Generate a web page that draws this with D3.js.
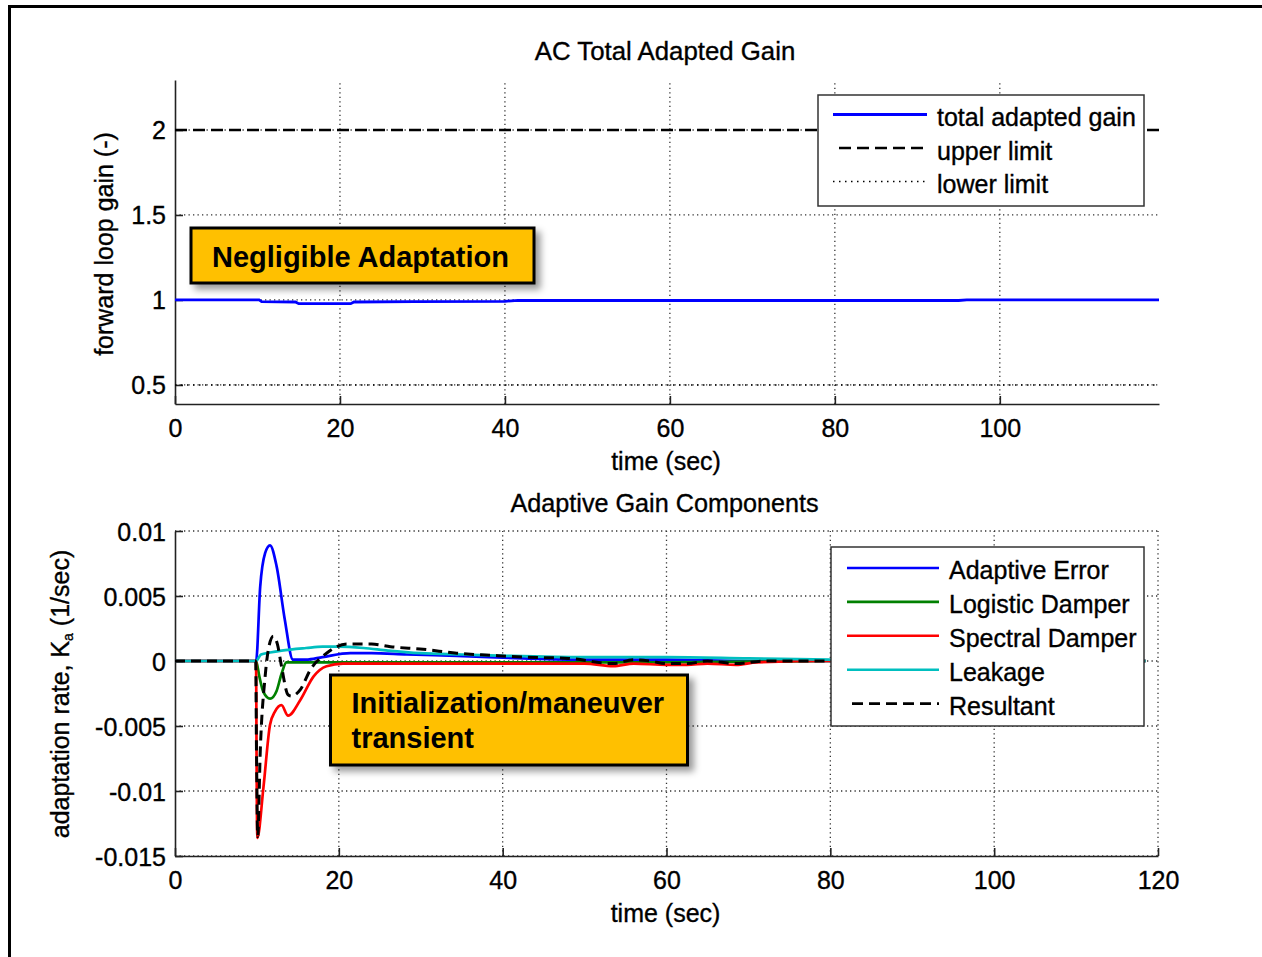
<!DOCTYPE html>
<html>
<head>
<meta charset="utf-8">
<script src="https://cdn.jsdelivr.net/npm/d3@7"></script>
<style>
  html, body { margin: 0; padding: 0; background: #fff; }
  svg { display: block; }
  text { font-family: "Liberation Sans", Arial, sans-serif; fill: #000; }
  .reg { stroke: #000; stroke-width: 0.35px; }
</style>
</head>
<body>
<svg id="chart" width="1262" height="957"></svg>
<script>
// ---------- data: total adapted gain ----------
const gainTime  = [0, 10.2, 10.5, 14.6, 15.0, 21.3, 21.7, 29, 40, 41.6, 60, 80, 95, 96, 119.3];
const gainValue = [1.0, 1.0, 0.990, 0.988, 0.978, 0.978, 0.988, 0.990, 0.992, 0.998, 0.997, 0.997, 0.997, 1.0, 1.0];
const upperLimit = 2.0;
const lowerLimit = 0.5;

// ---------- data: adaptive gain components ----------
const errTime  = [0, 9.9, 10.4, 11.0, 11.6, 12.4, 13.4, 14.4, 16, 18, 21.4, 24, 28.3, 34.4, 42.5, 50, 60, 70, 80, 100, 118.5];
const errValue = [0, 0, 0.0057, 0.0083, 0.0089, 0.0073, 0.0032, 0.0001, 0.0001, 0.0003, 0.0006, 0.0006, 0.0005, 0.0004, 0.0002, 0.0001, 0.0001, 0, 0, 0, 0];

const logTime  = [0, 9.9, 10.3, 10.8, 11.6, 12.4, 13.0, 13.6, 16, 20, 30, 40, 60, 80, 118.5];
const logValue = [0, 0, -0.0012, -0.0024, -0.0029, -0.0023, -0.0010, -0.0001, -0.0001, -0.0001, -0.0001, -0.0001, -0.0001, 0, 0];

const specTime  = [0, 9.9, 9.95, 10.05, 10.8, 11.6, 12.2, 13.0, 13.8, 15.3, 16.9, 18.5, 20.5, 25, 30, 40, 50, 53.5, 56, 60, 62.5, 65, 68.5, 71, 80, 100, 118.5];
const specValue = [0, 0, -0.0066, -0.0136, -0.0097, -0.0049, -0.0039, -0.0034, -0.0042, -0.0030, -0.0012, -0.0004, -0.0002, -0.0002, -0.0002, -0.0002, -0.0002, -0.0004, -0.0002, -0.0003, -0.0003, -0.0002, -0.0003, -0.0001, 0, 0, 0];

const leakTime  = [0, 9.9, 10.5, 11.6, 13, 16, 18, 20, 23, 26, 30, 35, 40.5, 50, 60, 70, 80, 100, 118.5];
const leakValue = [0, 0, 0.0005, 0.00065, 0.0008, 0.0010, 0.0011, 0.0011, 0.0010, 0.0008, 0.0006, 0.0005, 0.0004, 0.0003, 0.0003, 0.0002, 0.0001, 0, 0];

const resTime  = [0, 9.85, 9.95, 10.1, 10.4, 11.0, 11.5, 12.0, 12.5, 13.0, 13.8, 14.2, 15.3, 16.5, 18.5, 21, 24, 26.3, 30.3, 34.4, 38.5, 42.5, 48, 53.5, 56, 58, 60, 62.5, 65, 68.5, 72, 80, 100, 118.5];
const resValue = [0, 0, -0.0070, -0.0135, -0.0071, -0.0012, 0.0012, 0.0019, 0.0013, -0.0004, -0.0026, -0.0027, -0.0022, -0.0007, 0.0006, 0.0013, 0.0013, 0.0011, 0.0009, 0.0006, 0.00044, 0.0003, 0.0002, -0.0002, 0.0001, 0.0, -0.0002, -0.0002, 0.0, -0.0002, 0.0, 0.0, 0, 0];

// ---------- ticks and labels ----------
const topXTicks = [0, 20, 40, 60, 80, 100];
const topYTicks = [0.5, 1, 1.5, 2];
const botXTicks = [0, 20, 40, 60, 80, 100, 120];
const botYTicks = [-0.015, -0.01, -0.005, 0, 0.005, 0.01];
const botYTickLabels = ["-0.015", "-0.01", "-0.005", "0", "0.005", "0.01"];

const topLegend = ["total adapted gain", "upper limit", "lower limit"];
const botLegend = ["Adaptive Error", "Logistic Damper", "Spectral Damper", "Leakage", "Resultant"];
const botColors = ["#0000ff", "#008000", "#ff0000", "#00bfbf", "#000000"];

// ---------- layout ----------
const svg = d3.select("#chart");
const FS = 25;

const defs = svg.append("defs");
const shadow = defs.append("filter").attr("id", "shadow")
  .attr("x", "-10%").attr("y", "-20%").attr("width", "130%").attr("height", "160%");
shadow.append("feDropShadow").attr("dx", 5).attr("dy", 5).attr("stdDeviation", 3.5)
  .attr("flood-color", "#000").attr("flood-opacity", 0.4);

// outer frame
svg.append("rect").attr("x", 9.5).attr("y", 6.5).attr("width", 1400).attr("height", 1100)
  .attr("fill", "none").attr("stroke", "#000").attr("stroke-width", 3);

function makePanel(opts) {
  const g = svg.append("g");
  const x = opts.x, y = opts.y;
  const [x0, x1] = x.range();
  const [y0, y1] = y.range(); // y0 bottom, y1 top

  const clipId = opts.id + "-clip";
  defs.append("clipPath").attr("id", clipId).append("rect")
    .attr("x", x0).attr("y", y1 - 2).attr("width", x1 - x0 + 2).attr("height", y0 - y1 + 4);

  // dotted grid
  const grid = g.append("g").attr("stroke", "#333").attr("stroke-width", 1.3)
    .attr("stroke-dasharray", "1.3,3.2").attr("fill", "none");
  opts.xTicks.filter(d => d !== 0).forEach(d => {
    grid.append("line").attr("x1", x(d)).attr("x2", x(d)).attr("y1", y0).attr("y2", y1);
  });
  opts.yTicks.forEach(d => {
    grid.append("line").attr("x1", x0).attr("x2", x1).attr("y1", y(d)).attr("y2", y(d));
  });

  // axes (left and bottom, inward ticks)
  const xAxis = d3.axisBottom(x).tickValues(opts.xTicks).tickSizeInner(-8).tickSizeOuter(0)
    .tickPadding(15).tickFormat(d3.format("d"));
  const yAxis = d3.axisLeft(y).tickValues(opts.yTicks).tickSizeInner(-8).tickSizeOuter(0)
    .tickPadding(9).tickFormat((d, i) => opts.yTickFormat(d, i));
  const gx = g.append("g").attr("transform", `translate(0,${y0})`).call(xAxis);
  const gy = g.append("g").attr("transform", `translate(${x0},0)`).call(yAxis);
  [gx, gy].forEach(a => {
    a.select(".domain").attr("stroke", "#222").attr("stroke-width", 1.6);
    a.selectAll(".tick line").attr("stroke", "#222").attr("stroke-width", 1.6);
    a.selectAll("text").attr("class", "reg").style("font-size", FS + "px")
      .style("font-family", '"Liberation Sans", Arial, sans-serif').attr("fill", "#000");
  });
  gx.selectAll(".tick text").attr("dy", "0.71em").attr("y", 15);
  gy.selectAll(".tick text").attr("dy", "0.36em");

  // title and x label
  g.append("text").attr("class", "reg").attr("x", opts.titleX).attr("y", opts.titleY)
    .attr("text-anchor", "middle").style("font-size", opts.titleSize + "px").text(opts.title);
  g.append("text").attr("class", "reg").attr("x", (x0 + x1) / 2 - 1).attr("y", opts.xLabelY)
    .attr("text-anchor", "middle").style("font-size", FS + "px").text("time (sec)");

  const plot = g.append("g").attr("clip-path", `url(#${clipId})`);
  return { g, plot };
}

// ---------- top panel ----------
const xTop = d3.scaleLinear().domain([0, 119.3]).range([175, 1159]);
const yTop = d3.scaleLinear().domain([0.388, 2.294]).range([404, 80]);
const gainPanel = makePanel({
  id: "gainpanel", x: xTop, y: yTop, xTicks: topXTicks, yTicks: topYTicks,
  yTickFormat: d => String(d), title: "AC Total Adapted Gain",
  titleX: 665, titleY: 60, titleSize: 25.8, xLabelY: 470
});

gainPanel.plot.append("line").attr("x1", xTop(0)).attr("x2", xTop(119.3))
  .attr("y1", yTop(lowerLimit)).attr("y2", yTop(lowerLimit))
  .attr("stroke", "#000").attr("stroke-width", 1.6).attr("stroke-dasharray", "1.5,4.5");
gainPanel.plot.append("line").attr("x1", xTop(0)).attr("x2", xTop(119.3))
  .attr("y1", yTop(upperLimit)).attr("y2", yTop(upperLimit))
  .attr("stroke", "#000").attr("stroke-width", 2.6).attr("stroke-dasharray", "12,6");

const gainData = gainTime.map((t, i) => [t, gainValue[i]]);
gainPanel.plot.append("path").datum(gainData)
  .attr("d", d3.line().x(d => xTop(d[0])).y(d => yTop(d[1])))
  .attr("fill", "none").attr("stroke", "#0000ff").attr("stroke-width", 2.8);

svg.append("text").attr("class", "reg").attr("transform", "translate(113,244) rotate(-90)")
  .attr("text-anchor", "middle").style("font-size", FS + "px").text("forward loop gain (-)");

// top legend
const tl = svg.append("g");
tl.append("rect").attr("x", 818).attr("y", 95).attr("width", 326).attr("height", 111)
  .attr("fill", "#fff").attr("stroke", "#333").attr("stroke-width", 1.5);
const topStyles = [
  { stroke: "#0000ff", width: 2.8, dash: null, x1: 833 },
  { stroke: "#000", width: 2.6, dash: "12,6", x1: 839 },
  { stroke: "#000", width: 1.6, dash: "1.5,4.5", x1: 833 }
];
topLegend.forEach((name, i) => {
  const base = 126 + i * 33.5;
  const s = topStyles[i];
  tl.append("line").attr("x1", s.x1).attr("x2", 927).attr("y1", base - 11.5).attr("y2", base - 11.5)
    .attr("stroke", s.stroke).attr("stroke-width", s.width).attr("stroke-dasharray", s.dash);
  tl.append("text").attr("class", "reg").attr("x", 937).attr("y", base)
    .style("font-size", FS + "px").text(name);
});

// ---------- bottom panel ----------
const xBot = d3.scaleLinear().domain([0, 120]).range([175, 1158]);
const yBot = d3.scaleLinear().domain([-0.015, 0.01]).range([856, 531]);
const ratePanel = makePanel({
  id: "ratepanel", x: xBot, y: yBot, xTicks: botXTicks, yTicks: botYTicks,
  yTickFormat: (d, i) => botYTickLabels[botYTicks.indexOf(d)],
  title: "Adaptive Gain Components", titleX: 664.5, titleY: 512, titleSize: 25.2, xLabelY: 922
});

const series = [
  [errTime, errValue], [logTime, logValue], [specTime, specValue], [leakTime, leakValue], [resTime, resValue]
];
const lineBot = d3.line().curve(d3.curveMonotoneX).x(d => xBot(d[0])).y(d => yBot(d[1]));
series.forEach(([ts, vs], k) => {
  const data = ts.map((t, i) => [t, vs[i]]);
  ratePanel.plot.append("path").datum(data).attr("d", lineBot)
    .attr("fill", "none").attr("stroke", botColors[k])
    .attr("stroke-width", k === 4 ? 3 : 2.7)
    .attr("stroke-linejoin", "round")
    .attr("stroke-dasharray", k === 4 ? "10,6" : null);
});

const yl = svg.append("text").attr("class", "reg").attr("transform", "translate(69,694) rotate(-90)")
  .attr("text-anchor", "middle").style("font-size", FS + "px");
yl.append("tspan").text("adaptation rate, K");
yl.append("tspan").attr("dy", 4).style("font-size", "14px").text("a");
yl.append("tspan").attr("dy", -4).text("\u00a0(1/sec)");

// bottom legend
const bl = svg.append("g");
bl.append("rect").attr("x", 831).attr("y", 547).attr("width", 313).attr("height", 179)
  .attr("fill", "#fff").attr("stroke", "#333").attr("stroke-width", 1.5);
botLegend.forEach((name, i) => {
  const ly = 568 + i * 33.9;
  bl.append("line").attr("x1", i === 4 ? 852 : 847).attr("x2", 939).attr("y1", ly).attr("y2", ly)
    .attr("stroke", botColors[i]).attr("stroke-width", 2.6)
    .attr("stroke-dasharray", i === 4 ? "11,6" : null);
  bl.append("text").attr("class", "reg").attr("x", 949).attr("y", ly + 11)
    .style("font-size", FS + "px").text(name);
});

// ---------- annotation boxes ----------
function callout(x, y, w, h, lines, baseline0, lineStep) {
  const g = svg.append("g");
  g.append("rect").attr("x", x).attr("y", y).attr("width", w).attr("height", h)
    .attr("fill", "#ffc000").attr("stroke", "#000").attr("stroke-width", 3)
    .attr("filter", "url(#shadow)");
  lines.forEach((s, i) => {
    g.append("text").attr("x", x + 21).attr("y", baseline0 + i * lineStep)
      .style("font-size", "29px").style("font-weight", "bold").text(s);
  });
}
callout(191, 228, 343, 55, ["Negligible Adaptation"], 266.5, 0);
callout(330.5, 675, 357, 90, ["Initialization/maneuver", "transient"], 713, 35);
</script>
</body>
</html>
